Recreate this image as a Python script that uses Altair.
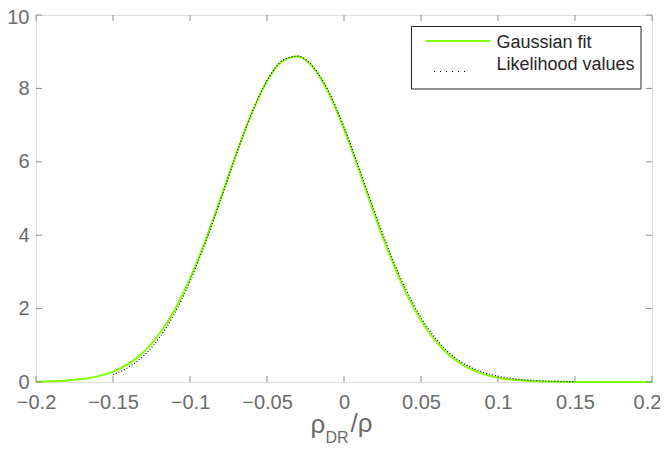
import altair as alt
import pandas as pd

# Gaussian fit
fit_x = [-0.20, -0.19, -0.18, -0.17, -0.16, -0.15, -0.14, -0.13, -0.12, -0.11,
         -0.10, -0.09, -0.08, -0.07, -0.06, -0.05, -0.04, -0.03, -0.02, -0.01,
         0.00, 0.01, 0.02, 0.03, 0.04, 0.05, 0.06, 0.07, 0.08, 0.09,
         0.10, 0.11, 0.12, 0.13, 0.14, 0.15, 0.16, 0.17, 0.18, 0.19, 0.20]
fit_y = [0.008, 0.018, 0.039, 0.079, 0.153, 0.281, 0.492, 0.820, 1.301, 1.964,
         2.821, 3.856, 5.015, 6.207, 7.311, 8.194, 8.741, 8.871, 8.569, 7.876,
         6.888, 5.733, 4.541, 3.423, 2.455, 1.676, 1.089, 0.673, 0.396, 0.221,
         0.118, 0.060, 0.029, 0.013, 0.006, 0.002, 0.001, 0.0, 0.0, 0.0, 0.0]

# Likelihood values
lik_x = [-0.15, -0.14, -0.13, -0.12, -0.11, -0.10, -0.09, -0.08, -0.07, -0.06,
         -0.05, -0.04, -0.03, -0.02, -0.01, 0.00, 0.01, 0.02, 0.03, 0.04,
         0.05, 0.06, 0.07, 0.08, 0.09, 0.10, 0.11, 0.12, 0.13, 0.14, 0.15]
lik_y = [0.20, 0.40, 0.72, 1.20, 1.87, 2.74, 3.80, 4.98, 6.20, 7.32,
         8.21, 8.76, 8.88, 8.59, 7.92, 6.95, 5.81, 4.63, 3.51, 2.54,
         1.76, 1.16, 0.73, 0.45, 0.27, 0.16, 0.09, 0.05, 0.03, 0.015, 0.01]

x_ticks = [-0.2, -0.15, -0.1, -0.05, 0, 0.05, 0.1, 0.15, 0.2]
y_ticks = [0, 2, 4, 6, 8, 10]

W, H = 616, 367
GRAY = "#6b6b6b"
AX = "#8a8a8a"
GREEN = "#80ff00"
FONT = "Liberation Sans"

fit_df = pd.DataFrame({"x": fit_x, "y": fit_y})
lik_df = pd.DataFrame({"x": lik_x, "y": lik_y})
xt_df = pd.DataFrame({"t": x_ticks})
yt_df = pd.DataFrame({"t": y_ticks})

xs = alt.Scale(domain=[-0.2, 0.2], nice=False, zero=False)
ys = alt.Scale(domain=[0, 10], nice=False)

x_axis = alt.Axis(values=x_ticks, format="~g", title=None, grid=False, ticks=False,
                  domain=False, labelFont=FONT, labelFontSize=20, labelColor=GRAY,
                  labelPadding=10, labelFlush=False, labelOverlap=False,
                  labelOffset={"condition": {"test": "datum.value >= 0.2", "value": -5},
                               "value": 0})
y_axis = alt.Axis(values=y_ticks, title=None, grid=False, ticks=False, domain=False,
                  labelFont=FONT, labelFontSize=20, labelColor=GRAY, labelPadding=7,
                  labelFlush=False, labelOverlap=False,
                  labelOffset={"condition": {"test": "datum.value >= 10", "value": 2.5},
                               "value": 0})

fit = alt.Chart(fit_df).mark_line(color=GREEN, strokeWidth=2, interpolate="monotone").encode(
    x=alt.X("x:Q", scale=xs, axis=x_axis),
    y=alt.Y("y:Q", scale=ys, axis=y_axis),
)
lik = alt.Chart(lik_df).mark_line(color="black", strokeWidth=1.1, strokeDash=[1, 2],
                                   interpolate="monotone").encode(
    x=alt.X("x:Q", scale=xs),
    y=alt.Y("y:Q", scale=ys),
)

tb = alt.Chart(xt_df).mark_rule(color=AX, strokeWidth=1).encode(
    x=alt.X("t:Q", scale=xs), y=alt.value(H), y2=alt.value(H - 6))
tt = alt.Chart(xt_df).mark_rule(color=AX, strokeWidth=1).encode(
    x=alt.X("t:Q", scale=xs), y=alt.value(0), y2=alt.value(6))
tl = alt.Chart(yt_df).mark_rule(color=AX, strokeWidth=1).encode(
    y=alt.Y("t:Q", scale=ys), x=alt.value(0), x2=alt.value(6))
tr = alt.Chart(yt_df).mark_rule(color=AX, strokeWidth=1).encode(
    y=alt.Y("t:Q", scale=ys), x=alt.value(W), x2=alt.value(W - 6))

# x-axis title  rho_DR / rho
t1 = alt.Chart().mark_text(text="ρ", font=FONT, fontSize=26, color=GRAY, align="left",
                            baseline="alphabetic").encode(x=alt.value(274.5), y=alt.value(418))
t2 = alt.Chart().mark_text(text="DR", font=FONT, fontSize=16, color=GRAY, align="left",
                            baseline="alphabetic").encode(x=alt.value(289.5), y=alt.value(427.5))
t3 = alt.Chart().mark_text(text="/ρ", font=FONT, fontSize=26, color=GRAY, align="left",
                            baseline="alphabetic").encode(x=alt.value(314.5), y=alt.value(417))

# legend
box = alt.Chart().mark_rect(fill="white", stroke="#262626", strokeWidth=1).encode(
    x=alt.value(375.5), x2=alt.value(605), y=alt.value(11.5), y2=alt.value(74))
lg1 = alt.Chart().mark_rule(color=GREEN, strokeWidth=2).encode(
    x=alt.value(389.5), x2=alt.value(454), y=alt.value(26))
lg2 = alt.Chart().mark_rule(color="black", strokeWidth=1.1, strokeDash=[1, 5]).encode(
    x=alt.value(398), x2=alt.value(432), y=alt.value(56.5))
lt1 = alt.Chart().mark_text(text="Gaussian fit", font=FONT, fontSize=18, color="#262626",
                             align="left", baseline="alphabetic").encode(
    x=alt.value(460.5), y=alt.value(32.5))
lt2 = alt.Chart().mark_text(text="Likelihood values", font=FONT, fontSize=18, color="#262626",
                             align="left", baseline="alphabetic").encode(
    x=alt.value(460.5), y=alt.value(54.5))

chart = alt.layer(fit, lik, tb, tt, tl, tr, t1, t2, t3, box, lg1, lg2, lt1, lt2).properties(
    width=W, height=H,
    autosize=alt.AutoSizeParams(type="none"),
    padding={"left": 28, "top": 7, "right": 8, "bottom": 63},
).configure_view(stroke=AX, strokeWidth=1).configure(background="white")

chart.save("out.html", embed_options={"renderer": "svg", "actions": False})
